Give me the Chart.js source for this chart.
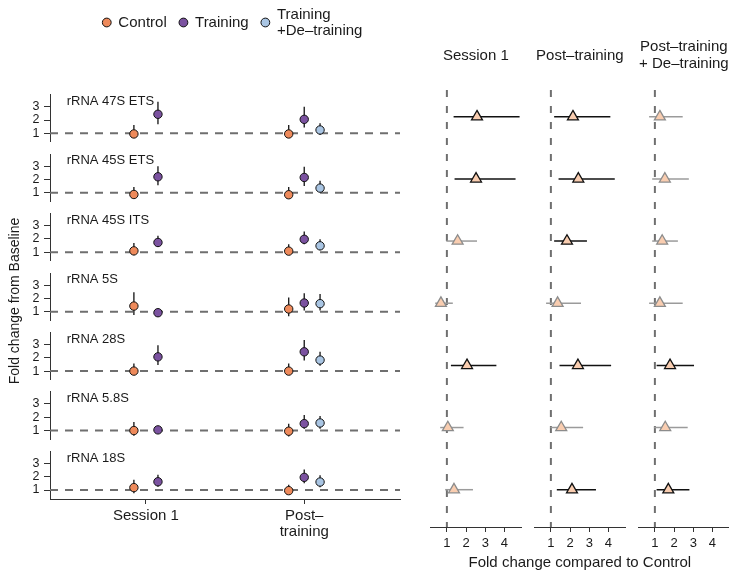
<!DOCTYPE html>
<html>
<head>
<meta charset="utf-8">
<script src="https://cdn.jsdelivr.net/npm/chart.js@4.4.1/dist/chart.umd.min.js"></script>
<style>
  html, body { margin: 0; padding: 0; background: #fff; overflow: hidden; }
  #wrap { position: relative; width: 729px; height: 578px; overflow: hidden; background: #fff; }
  #wrap canvas { position: absolute; }
</style>
</head>
<body>
<div id="wrap"></div>
<script>
// ---- data ---------------------------------------------------------------
const rnaLabels = ['rRNA 47S ETS', 'rRNA 45S ETS', 'rRNA 45S ITS', 'rRNA 5S', 'rRNA 28S', 'rRNA 5.8S', 'rRNA 18S'];
const timepoints = ['Session 1', 'Post–training'];
const timeTickLabels = ['Session 1', ['Post–', 'training']];
const groups = ['Control', 'Training', ['Training', '+De–training']];

// Fold change from baseline, [estimate, lower, upper] per target
const controlSession1  = [[0.95,0.75,1.62],[0.87,0.70,1.43],[1.10,0.78,1.70],[1.42,0.74,2.45],[1.00,0.80,1.57],[1.00,0.60,1.65],[1.18,0.75,1.77]];
const trainingSession1 = [[2.43,1.68,3.38],[2.20,1.57,3.00],[1.73,1.40,2.23],[0.92,0.80,1.15],[2.07,1.45,2.95],[1.05,0.85,1.25],[1.62,1.25,2.15]];
const controlPost      = [[0.95,0.78,1.62],[0.85,0.70,1.43],[1.08,0.85,1.60],[1.20,0.65,2.07],[1.00,0.80,1.57],[0.95,0.55,1.52],[0.95,0.75,1.40]];
const trainingPost     = [[2.05,1.43,3.00],[2.15,1.50,2.95],[1.97,1.60,2.55],[1.65,1.08,2.38],[2.45,1.80,3.33],[1.52,1.13,2.17],[1.95,1.50,2.55]];
const detrainingPost   = [[1.25,0.88,1.75],[1.35,1.05,1.90],[1.48,1.15,1.97],[1.60,1.08,2.33],[1.83,1.40,2.45],[1.57,1.13,2.10],[1.60,1.20,2.10]];

// Fold change compared to Control, [estimate, lower, upper] per target
const fcSession1 = [[2.57,1.35,4.79],[2.52,1.40,4.58],[1.56,0.97,2.57],[0.69,0.39,1.31],[2.05,1.21,3.58],[1.05,0.65,1.87],[1.37,0.91,2.36]];
const fcPost     = [[2.15,1.17,4.10],[2.43,1.40,4.33],[1.84,1.17,2.88],[1.35,0.75,2.57],[2.41,1.45,4.14],[1.54,0.97,2.68],[2.10,1.31,3.35]];
const fcDetrain  = [[1.26,0.70,2.45],[1.52,0.86,2.77],[1.38,0.86,2.20],[1.26,0.70,2.45],[1.79,1.09,3.04],[1.54,0.95,2.71],[1.70,1.09,2.80]];
const fcTitles   = ['Session 1', 'Post–training', ['Post–training', '+ De–training']];
const fcAxisTitle = 'Fold change compared to Control';

const baselineTicks = [1, 2, 3];
const fcTicks = [1, 2, 3, 4];

// series shown in each baseline row: group index, timepoint index, values
const leftSeries = [
  { group: 0, time: 0, values: controlSession1 },
  { group: 1, time: 0, values: trainingSession1 },
  { group: 0, time: 1, values: controlPost },
  { group: 1, time: 1, values: trainingPost },
  { group: 2, time: 1, values: detrainingPost }
];
const fcPanels = [fcSession1, fcPost, fcDetrain];

// ---- styling / layout ------------------------------------------------------
const FONT = '"Liberation Sans", Arial, Helvetica, sans-serif';
Chart.defaults.font.family = FONT;
Chart.defaults.color = '#1a1a1a';

const groupColors = ['#EE8A5B', '#7B52A0', '#A9C5E3'];
const AXIS = '#333333';
const REF = '#6f6f6f';
const DODGE = { 2: [-0.076, 0.076], 3: [-0.098, 0, 0.1] };

const X_MIN = 0.394, X_MAX = 2.605;      // timepoint axis (1 = Session 1, 2 = Post-training)
const Y_MIN = 0.35, Y_MAX = 3.9;         // fold change from baseline within a row
const UNIT = 13.3;                       // px per fold-change unit in a row
const ROW_BASE0 = 133.3, ROW_STEP = 59.45;
const FC_X_MIN = 0.12, FC_X_MAX = 4.9;
const FC_Y_MIN = -0.43, FC_Y_MAX = 6.6;

const wrap = document.getElementById('wrap');
function makeCanvas(left, top, w, h) {
  const c = document.createElement('canvas');
  c.width = w; c.height = h;
  c.style.left = left + 'px'; c.style.top = top + 'px';
  c.style.width = w + 'px'; c.style.height = h + 'px';
  wrap.appendChild(c);
  return c;
}

const baseOptions = {
  responsive: false,
  animation: false,
  devicePixelRatio: 1,
  events: [],
  plugins: { legend: { display: false }, tooltip: { enabled: false } }
};

function timeOffsets() {
  // position of each series along the timepoint axis (dodged by group)
  return leftSeries.map(s => {
    const same = leftSeries.filter(o => o.time === s.time);
    const k = same.indexOf(s);
    return s.time + 1 + DODGE[same.length][k];
  });
}

// ---- frame: legend, shared timepoint axis and y title -------------------
const legendPlugin = {
  id: 'groupLegend',
  afterDraw(chart) {
    const ctx = chart.ctx;
    ctx.save();
    ctx.font = '15px ' + FONT;
    ctx.textBaseline = 'middle';
    ctx.textAlign = 'left';
    const r = 4.4, textGap = 11.6, itemGap = 12.3, lh = 16, cy = 22.5;
    const widths = groups.map(g => Math.max(...[].concat(g).map(t => ctx.measureText(t).width)));
    let span = r;
    widths.forEach((w, i) => { span += textGap + w + (i < widths.length - 1 ? itemGap : 0); });
    let x = 228 - span / 2 + r;
    groups.forEach((g, i) => {
      ctx.beginPath();
      ctx.arc(x, cy, r, 0, Math.PI * 2);
      ctx.fillStyle = groupColors[i];
      ctx.fill();
      ctx.lineWidth = 1;
      ctx.strokeStyle = '#111';
      ctx.stroke();
      const lines = [].concat(g);
      ctx.fillStyle = '#1a1a1a';
      lines.forEach((t, j) => ctx.fillText(t, x + textGap, cy + (j - (lines.length - 1) / 2) * lh));
      x += textGap + widths[i] + itemGap + r;
    });
    ctx.restore();
  }
};

new Chart(makeCanvas(0, 0, 410, 578), {
  type: 'scatter',
  data: { datasets: [] },
  options: Object.assign({}, baseOptions, {
    layout: { padding: { top: 103, right: 10, left: 0, bottom: 0 } },
    scales: {
      x: {
        type: 'linear', min: X_MIN, max: X_MAX,
        afterBuildTicks(s) { s.ticks = timepoints.map((t, i) => ({ value: i + 1 })); },
        afterFit(s) { s.height = 79; },
        ticks: { callback: (v, i) => timeTickLabels[i], padding: 4, font: { size: 15, lineHeight: 1.07 }, maxRotation: 0 },
        grid: { drawOnChartArea: false, tickLength: 5, color: AXIS },
        border: { color: AXIS }
      },
      y: {
        type: 'linear', min: 0, max: 1,
        afterFit(s) { s.width = 50; },
        ticks: { display: false },
        grid: { display: false },
        border: { display: false },
        title: { display: true, text: 'Fold change from Baseline', font: { size: 14 }, padding: { top: 7, bottom: 0 } }
      }
    }
  }),
  plugins: [legendPlugin]
});

// ---- one chart per target: fold change from baseline ------------------------
const xPos = timeOffsets();
rnaLabels.forEach((label, r) => {
  const yb = ROW_BASE0 + r * ROW_STEP;
  const areaTop = yb - (Y_MAX - 1) * UNIT;
  const areaH = (Y_MAX - Y_MIN) * UNIT;
  const PAD = 14;
  const top = Math.floor(areaTop - PAD);
  const H = Math.ceil(areaH + 2 * PAD);
  const pt = areaTop - top;
  const pb = H - pt - areaH;

  const datasets = [{
    type: 'line',
    data: [{ x: X_MIN, y: 1 }, { x: X_MAX, y: 1 }],
    borderColor: REF, borderWidth: 2, borderDash: [8, 7],
    pointRadius: 0, order: 3
  }];
  leftSeries.forEach((s, k) => {
    const v = s.values[r];
    datasets.push({
      type: 'line',
      data: [{ x: xPos[k], y: v[1] }, { x: xPos[k], y: v[2] }],
      borderColor: '#111', borderWidth: 1.3, pointRadius: 0, order: 2, clip: false
    });
    datasets.push({
      type: 'scatter',
      data: [{ x: xPos[k], y: v[0] }],
      backgroundColor: groupColors[s.group], borderColor: '#111', borderWidth: 1,
      pointRadius: 4.2, order: 1, clip: false
    });
  });

  const rowLabel = {
    id: 'rowLabel' + r,
    afterDatasetsDraw(chart) {
      const { ctx, chartArea, scales } = chart;
      ctx.save();
      ctx.font = '13px ' + FONT;
      ctx.fillStyle = '#1a1a1a';
      ctx.textBaseline = 'middle';
      ctx.textAlign = 'left';
      ctx.fillText(label, chartArea.left + 16.7, scales.y.getPixelForValue(3.4));
      ctx.restore();
    }
  };

  new Chart(makeCanvas(0, top, 410, H), {
    type: 'scatter',
    data: { datasets },
    options: Object.assign({}, baseOptions, {
      layout: { padding: { top: pt, bottom: pb, left: 0, right: 10 } },
      scales: {
        x: { type: 'linear', min: X_MIN, max: X_MAX, display: false },
        y: {
          type: 'linear', min: Y_MIN, max: Y_MAX,
          afterBuildTicks(s) { s.ticks = baselineTicks.map(v => ({ value: v })); },
          afterFit(s) { s.width = 50; },
          ticks: { padding: 4.5, font: { size: 12.5 } },
          grid: { drawOnChartArea: false, tickLength: 6, color: AXIS },
          border: { color: AXIS }
        }
      }
    }),
    plugins: [rowLabel]
  });
});

// ---- fold change compared to Control, one panel per timepoint -------------
const axisTitlePlugin = {
  id: 'fcAxisTitle',
  afterDraw(chart) {
    const { ctx, chartArea } = chart;
    ctx.save();
    ctx.font = '15px ' + FONT;
    ctx.fillStyle = '#1a1a1a';
    ctx.textBaseline = 'middle';
    ctx.textAlign = 'center';
    ctx.fillText(fcAxisTitle, (chartArea.left + chartArea.right) / 2, chartArea.bottom + 36);
    ctx.restore();
  }
};

fcPanels.forEach((values, p) => {
  const areaLeft = 430 + p * 104;
  const areaW = 91.7;
  const padX = p === 1 ? 80 : 12;
  const left = Math.floor(areaLeft - padX);
  const padL = areaLeft - left;
  const W = Math.ceil(padL + areaW + padX);
  const padR = W - padL - areaW;
  const nLines = [].concat(fcTitles[p]).length;
  const titleTop = 25.5 - nLines * 8.5;

  const datasets = [{
    type: 'line',
    data: [{ x: 1, y: FC_Y_MIN }, { x: 1, y: FC_Y_MAX }],
    borderColor: REF, borderWidth: 2, borderDash: [7, 9],
    pointRadius: 0, order: 3
  }];
  values.forEach((v, i) => {
    const sig = v[1] > 1;
    datasets.push({
      type: 'line',
      data: [{ x: v[1], y: i }, { x: v[2], y: i }],
      borderColor: sig ? '#111' : '#9b9b9b', borderWidth: 1.5,
      pointRadius: 0, order: 2, clip: false
    });
  });
  datasets.push({
    type: 'scatter',
    data: values.map((v, i) => ({ x: v[0], y: i })),
    pointStyle: 'triangle', pointRadius: 6.3,
    backgroundColor: '#F9CDB0',
    borderColor: values.map(v => v[1] > 1 ? '#111' : '#8c8c8c'),
    borderWidth: 1.3, order: 1, clip: false
  });

  new Chart(makeCanvas(left, 30, W, 547), {
    type: 'scatter',
    data: { datasets },
    options: Object.assign({}, baseOptions, {
      layout: { padding: { top: 0, bottom: 0, left: padL, right: padR } },
      plugins: {
        legend: { display: false }, tooltip: { enabled: false },
        title: {
          display: true, text: fcTitles[p], fullSize: false,
          font: { size: 15, weight: 'normal', lineHeight: 17 / 15 }, color: '#1a1a1a',
          padding: { top: titleTop, bottom: 60 - titleTop - nLines * 17 }
        }
      },
      scales: {
        x: {
          type: 'linear', min: FC_X_MIN, max: FC_X_MAX,
          afterBuildTicks(s) { s.ticks = fcTicks.map(v => ({ value: v })); },
          afterFit(s) { s.height = 50; },
          ticks: { padding: 4, font: { size: 13 }, maxRotation: 0 },
          grid: { drawOnChartArea: false, tickLength: 5, color: AXIS },
          border: { color: AXIS }
        },
        y: { type: 'linear', min: FC_Y_MIN, max: FC_Y_MAX, reverse: true, display: false }
      }
    }),
    plugins: p === 1 ? [axisTitlePlugin] : []
  });
});
</script>
</body>
</html>
